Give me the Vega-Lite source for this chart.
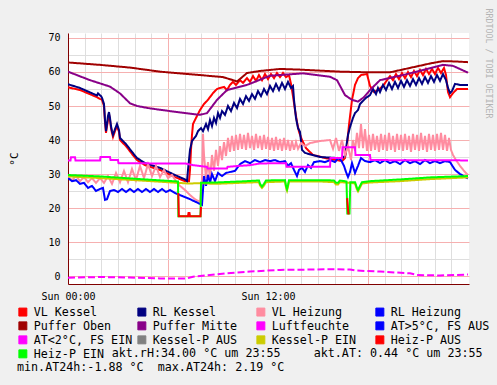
{
"$schema": "https://vega.github.io/schema/vega-lite/v6.json",
"width": 401, "height": 251,
"autosize": {"type": "none"},
"padding": {"left": 68, "top": 33, "right": 28, "bottom": 101},
"background": "#f0f0f0",
"title": {"text": "Temperaturverlauf Heizung am: 01.02.2015", "anchor": "start", "frame": "group", "dx": 20, "offset": 10, "font": "DejaVu Sans Mono", "fontSize": 13, "fontWeight": "normal", "color": "#000000"},
"config": {"view": {"fill": "#ffffff", "stroke": null}, "font": "DejaVu Sans Mono"},
"data": {"values": [
{"s":"VL Kessel","t":0,"v":55.5},{"s":"VL Kessel","t":0.72,"v":54.7},{"s":"VL Kessel","t":1.74,"v":52.6},{"s":"VL Kessel","t":1.92,"v":52.1},{"s":"VL Kessel","t":2.04,"v":51.8},{"s":"VL Kessel","t":2.16,"v":50.0},{"s":"VL Kessel","t":2.22,"v":45.3},{"s":"VL Kessel","t":2.28,"v":42.1},{"s":"VL Kessel","t":2.34,"v":44.1},{"s":"VL Kessel","t":2.4,"v":45.9},{"s":"VL Kessel","t":2.46,"v":47.6},{"s":"VL Kessel","t":2.52,"v":45.9},{"s":"VL Kessel","t":2.58,"v":43.5},{"s":"VL Kessel","t":2.64,"v":42.1},{"s":"VL Kessel","t":2.7,"v":40.9},{"s":"VL Kessel","t":2.82,"v":42.6},{"s":"VL Kessel","t":2.94,"v":44.1},{"s":"VL Kessel","t":3.06,"v":42.4},{"s":"VL Kessel","t":3.12,"v":40.0},{"s":"VL Kessel","t":3.48,"v":38.2},{"s":"VL Kessel","t":3.84,"v":35.9},{"s":"VL Kessel","t":4.14,"v":34.1},{"s":"VL Kessel","t":4.62,"v":32.6},{"s":"VL Kessel","t":5.52,"v":31.2},{"s":"VL Kessel","t":6.42,"v":29.1},{"s":"VL Kessel","t":7.02,"v":27.9},{"s":"VL Kessel","t":7.26,"v":27.9},{"s":"VL Kessel","t":7.32,"v":31.2},{"s":"VL Kessel","t":7.38,"v":37.1},{"s":"VL Kessel","t":7.44,"v":41.5},{"s":"VL Kessel","t":7.5,"v":44.7},{"s":"VL Kessel","t":7.68,"v":46.5},{"s":"VL Kessel","t":7.92,"v":48.8},{"s":"VL Kessel","t":8.16,"v":50.6},{"s":"VL Kessel","t":8.34,"v":51.5},{"s":"VL Kessel","t":8.52,"v":52.6},{"s":"VL Kessel","t":8.7,"v":53.8},{"s":"VL Kessel","t":8.94,"v":55.0},{"s":"VL Kessel","t":9.12,"v":55.3},{"s":"VL Kessel","t":9.36,"v":55.6},{"s":"VL Kessel","t":9.54,"v":54.7},{"s":"VL Kessel","t":9.72,"v":56.2},{"s":"VL Kessel","t":9.9,"v":57.1},{"s":"VL Kessel","t":10.08,"v":56.2},{"s":"VL Kessel","t":10.32,"v":57.6},{"s":"VL Kessel","t":10.5,"v":56.8},{"s":"VL Kessel","t":10.74,"v":58.2},{"s":"VL Kessel","t":10.92,"v":57.1},{"s":"VL Kessel","t":11.1,"v":58.8},{"s":"VL Kessel","t":11.28,"v":57.4},{"s":"VL Kessel","t":11.46,"v":59.1},{"s":"VL Kessel","t":11.64,"v":57.6},{"s":"VL Kessel","t":11.82,"v":59.4},{"s":"VL Kessel","t":12.0,"v":57.9},{"s":"VL Kessel","t":12.18,"v":59.4},{"s":"VL Kessel","t":12.36,"v":58.2},{"s":"VL Kessel","t":12.54,"v":59.7},{"s":"VL Kessel","t":12.72,"v":58.5},{"s":"VL Kessel","t":12.9,"v":59.7},{"s":"VL Kessel","t":13.08,"v":58.5},{"s":"VL Kessel","t":13.26,"v":59.1},{"s":"VL Kessel","t":13.38,"v":56.5},{"s":"VL Kessel","t":13.5,"v":52.9},{"s":"VL Kessel","t":13.62,"v":48.8},{"s":"VL Kessel","t":13.74,"v":45.3},{"s":"VL Kessel","t":13.86,"v":42.4},{"s":"VL Kessel","t":14.04,"v":40.0},{"s":"VL Kessel","t":14.28,"v":37.6},{"s":"VL Kessel","t":14.7,"v":35.6},{"s":"VL Kessel","t":15.42,"v":34.7},{"s":"VL Kessel","t":16.44,"v":33.8},{"s":"VL Kessel","t":16.62,"v":34.7},{"s":"VL Kessel","t":16.74,"v":38.5},{"s":"VL Kessel","t":16.86,"v":44.4},{"s":"VL Kessel","t":17.04,"v":51.8},{"s":"VL Kessel","t":17.22,"v":56.2},{"s":"VL Kessel","t":17.4,"v":58.2},{"s":"VL Kessel","t":17.58,"v":59.1},{"s":"VL Kessel","t":17.94,"v":59.4},{"s":"VL Kessel","t":18.12,"v":55.9},{"s":"VL Kessel","t":18.36,"v":54.1},{"s":"VL Kessel","t":18.6,"v":54.7},{"s":"VL Kessel","t":18.9,"v":55.9},{"s":"VL Kessel","t":19.14,"v":57.6},{"s":"VL Kessel","t":19.32,"v":58.8},{"s":"VL Kessel","t":19.5,"v":57.6},{"s":"VL Kessel","t":19.68,"v":59.4},{"s":"VL Kessel","t":19.86,"v":57.9},{"s":"VL Kessel","t":20.04,"v":59.7},{"s":"VL Kessel","t":20.22,"v":58.2},{"s":"VL Kessel","t":20.4,"v":60.0},{"s":"VL Kessel","t":20.58,"v":58.5},{"s":"VL Kessel","t":20.76,"v":60.3},{"s":"VL Kessel","t":20.94,"v":58.8},{"s":"VL Kessel","t":21.12,"v":60.6},{"s":"VL Kessel","t":21.3,"v":59.1},{"s":"VL Kessel","t":21.48,"v":60.9},{"s":"VL Kessel","t":21.66,"v":59.4},{"s":"VL Kessel","t":21.84,"v":60.9},{"s":"VL Kessel","t":22.02,"v":59.4},{"s":"VL Kessel","t":22.2,"v":61.2},{"s":"VL Kessel","t":22.38,"v":59.7},{"s":"VL Kessel","t":22.56,"v":61.2},{"s":"VL Kessel","t":22.68,"v":59.1},{"s":"VL Kessel","t":22.8,"v":54.1},{"s":"VL Kessel","t":22.92,"v":52.6},{"s":"VL Kessel","t":23.1,"v":53.8},{"s":"VL Kessel","t":23.34,"v":55.0},{"s":"VL Kessel","t":23.64,"v":55.0},{"s":"VL Kessel","t":24.0,"v":55.0},
{"s":"RL Kessel","t":0,"v":56.4},{"s":"RL Kessel","t":0.72,"v":55.3},{"s":"RL Kessel","t":1.74,"v":53.1},{"s":"RL Kessel","t":1.8,"v":53.7},{"s":"RL Kessel","t":1.98,"v":52.9},{"s":"RL Kessel","t":2.04,"v":52.4},{"s":"RL Kessel","t":2.16,"v":50.6},{"s":"RL Kessel","t":2.22,"v":45.9},{"s":"RL Kessel","t":2.28,"v":42.6},{"s":"RL Kessel","t":2.34,"v":44.7},{"s":"RL Kessel","t":2.4,"v":47.1},{"s":"RL Kessel","t":2.46,"v":48.2},{"s":"RL Kessel","t":2.52,"v":46.5},{"s":"RL Kessel","t":2.58,"v":44.1},{"s":"RL Kessel","t":2.64,"v":42.6},{"s":"RL Kessel","t":2.7,"v":41.5},{"s":"RL Kessel","t":2.82,"v":43.2},{"s":"RL Kessel","t":2.94,"v":44.7},{"s":"RL Kessel","t":3.06,"v":42.9},{"s":"RL Kessel","t":3.12,"v":40.6},{"s":"RL Kessel","t":3.48,"v":38.8},{"s":"RL Kessel","t":3.84,"v":36.5},{"s":"RL Kessel","t":4.14,"v":34.7},{"s":"RL Kessel","t":4.62,"v":33.2},{"s":"RL Kessel","t":5.52,"v":31.8},{"s":"RL Kessel","t":6.42,"v":29.7},{"s":"RL Kessel","t":7.02,"v":28.4},{"s":"RL Kessel","t":7.14,"v":27.9},{"s":"RL Kessel","t":7.2,"v":31.2},{"s":"RL Kessel","t":7.32,"v":37.1},{"s":"RL Kessel","t":7.44,"v":39.7},{"s":"RL Kessel","t":7.68,"v":41.2},{"s":"RL Kessel","t":7.8,"v":42.6},{"s":"RL Kessel","t":7.98,"v":43.5},{"s":"RL Kessel","t":8.1,"v":42.6},{"s":"RL Kessel","t":8.28,"v":44.7},{"s":"RL Kessel","t":8.4,"v":43.2},{"s":"RL Kessel","t":8.52,"v":45.9},{"s":"RL Kessel","t":8.64,"v":44.1},{"s":"RL Kessel","t":8.76,"v":46.5},{"s":"RL Kessel","t":8.88,"v":45.0},{"s":"RL Kessel","t":9.0,"v":47.9},{"s":"RL Kessel","t":9.12,"v":46.5},{"s":"RL Kessel","t":9.24,"v":48.5},{"s":"RL Kessel","t":9.42,"v":47.4},{"s":"RL Kessel","t":9.6,"v":50.0},{"s":"RL Kessel","t":9.78,"v":48.5},{"s":"RL Kessel","t":9.96,"v":50.9},{"s":"RL Kessel","t":10.14,"v":49.4},{"s":"RL Kessel","t":10.32,"v":52.1},{"s":"RL Kessel","t":10.5,"v":50.6},{"s":"RL Kessel","t":10.68,"v":52.9},{"s":"RL Kessel","t":10.86,"v":51.5},{"s":"RL Kessel","t":11.04,"v":53.5},{"s":"RL Kessel","t":11.22,"v":52.1},{"s":"RL Kessel","t":11.4,"v":54.4},{"s":"RL Kessel","t":11.58,"v":52.9},{"s":"RL Kessel","t":11.76,"v":55.0},{"s":"RL Kessel","t":11.94,"v":53.5},{"s":"RL Kessel","t":12.12,"v":55.9},{"s":"RL Kessel","t":12.3,"v":54.4},{"s":"RL Kessel","t":12.48,"v":56.5},{"s":"RL Kessel","t":12.66,"v":54.7},{"s":"RL Kessel","t":12.84,"v":56.8},{"s":"RL Kessel","t":13.02,"v":55.0},{"s":"RL Kessel","t":13.2,"v":57.1},{"s":"RL Kessel","t":13.38,"v":55.3},{"s":"RL Kessel","t":13.5,"v":55.9},{"s":"RL Kessel","t":13.56,"v":51.8},{"s":"RL Kessel","t":13.68,"v":46.5},{"s":"RL Kessel","t":13.8,"v":43.5},{"s":"RL Kessel","t":13.92,"v":42.4},{"s":"RL Kessel","t":14.04,"v":37.1},{"s":"RL Kessel","t":14.22,"v":36.2},{"s":"RL Kessel","t":15.12,"v":35.0},{"s":"RL Kessel","t":16.14,"v":34.7},{"s":"RL Kessel","t":16.44,"v":34.7},{"s":"RL Kessel","t":16.62,"v":35.3},{"s":"RL Kessel","t":16.8,"v":41.5},{"s":"RL Kessel","t":16.92,"v":43.8},{"s":"RL Kessel","t":17.1,"v":46.5},{"s":"RL Kessel","t":17.22,"v":47.9},{"s":"RL Kessel","t":17.4,"v":48.8},{"s":"RL Kessel","t":17.52,"v":50.6},{"s":"RL Kessel","t":17.7,"v":51.5},{"s":"RL Kessel","t":17.88,"v":52.4},{"s":"RL Kessel","t":18.12,"v":53.2},{"s":"RL Kessel","t":18.3,"v":55.0},{"s":"RL Kessel","t":18.48,"v":53.5},{"s":"RL Kessel","t":18.6,"v":55.3},{"s":"RL Kessel","t":18.72,"v":54.1},{"s":"RL Kessel","t":18.9,"v":56.2},{"s":"RL Kessel","t":19.08,"v":54.7},{"s":"RL Kessel","t":19.26,"v":56.8},{"s":"RL Kessel","t":19.44,"v":55.0},{"s":"RL Kessel","t":19.62,"v":57.1},{"s":"RL Kessel","t":19.8,"v":55.3},{"s":"RL Kessel","t":19.98,"v":57.4},{"s":"RL Kessel","t":20.16,"v":55.6},{"s":"RL Kessel","t":20.34,"v":57.6},{"s":"RL Kessel","t":20.52,"v":55.9},{"s":"RL Kessel","t":20.7,"v":57.9},{"s":"RL Kessel","t":20.88,"v":56.2},{"s":"RL Kessel","t":21.06,"v":58.2},{"s":"RL Kessel","t":21.24,"v":56.5},{"s":"RL Kessel","t":21.42,"v":58.5},{"s":"RL Kessel","t":21.6,"v":56.8},{"s":"RL Kessel","t":21.78,"v":58.8},{"s":"RL Kessel","t":21.96,"v":57.1},{"s":"RL Kessel","t":22.14,"v":59.1},{"s":"RL Kessel","t":22.32,"v":57.4},{"s":"RL Kessel","t":22.5,"v":59.4},{"s":"RL Kessel","t":22.68,"v":57.6},{"s":"RL Kessel","t":22.8,"v":55.3},{"s":"RL Kessel","t":22.92,"v":53.8},{"s":"RL Kessel","t":23.04,"v":54.4},{"s":"RL Kessel","t":23.22,"v":56.5},{"s":"RL Kessel","t":23.52,"v":56.2},{"s":"RL Kessel","t":24.0,"v":56.2},
{"s":"VL Heizung","t":0,"v":29.1},{"s":"VL Heizung","t":0.24,"v":28.2},{"s":"VL Heizung","t":0.48,"v":29.4},{"s":"VL Heizung","t":0.72,"v":27.9},{"s":"VL Heizung","t":0.96,"v":29.1},{"s":"VL Heizung","t":1.2,"v":27.6},{"s":"VL Heizung","t":1.44,"v":28.8},{"s":"VL Heizung","t":1.68,"v":27.4},{"s":"VL Heizung","t":1.92,"v":28.8},{"s":"VL Heizung","t":2.16,"v":27.4},{"s":"VL Heizung","t":2.4,"v":29.4},{"s":"VL Heizung","t":2.64,"v":27.1},{"s":"VL Heizung","t":2.88,"v":30.3},{"s":"VL Heizung","t":3.12,"v":27.6},{"s":"VL Heizung","t":3.36,"v":30.9},{"s":"VL Heizung","t":3.6,"v":27.6},{"s":"VL Heizung","t":3.84,"v":31.5},{"s":"VL Heizung","t":4.08,"v":28.2},{"s":"VL Heizung","t":4.32,"v":32.4},{"s":"VL Heizung","t":4.56,"v":28.8},{"s":"VL Heizung","t":4.8,"v":32.9},{"s":"VL Heizung","t":5.04,"v":29.4},{"s":"VL Heizung","t":5.28,"v":32.4},{"s":"VL Heizung","t":5.52,"v":29.1},{"s":"VL Heizung","t":5.76,"v":31.2},{"s":"VL Heizung","t":6.0,"v":28.8},{"s":"VL Heizung","t":6.24,"v":29.7},{"s":"VL Heizung","t":6.48,"v":27.9},{"s":"VL Heizung","t":6.72,"v":26.5},{"s":"VL Heizung","t":7.02,"v":25.3},{"s":"VL Heizung","t":7.32,"v":23.8},{"s":"VL Heizung","t":7.62,"v":22.6},{"s":"VL Heizung","t":7.92,"v":21.8},{"s":"VL Heizung","t":8.04,"v":28.2},{"s":"VL Heizung","t":8.1,"v":41.8},{"s":"VL Heizung","t":8.16,"v":35.6},{"s":"VL Heizung","t":8.28,"v":28.8},{"s":"VL Heizung","t":8.4,"v":33.5},{"s":"VL Heizung","t":8.52,"v":28.8},{"s":"VL Heizung","t":8.64,"v":35.6},{"s":"VL Heizung","t":8.76,"v":30.9},{"s":"VL Heizung","t":8.88,"v":37.1},{"s":"VL Heizung","t":9.0,"v":32.4},{"s":"VL Heizung","t":9.12,"v":38.2},{"s":"VL Heizung","t":9.24,"v":34.1},{"s":"VL Heizung","t":9.36,"v":39.4},{"s":"VL Heizung","t":9.48,"v":35.3},{"s":"VL Heizung","t":9.6,"v":40.6},{"s":"VL Heizung","t":9.72,"v":36.5},{"s":"VL Heizung","t":9.84,"v":41.2},{"s":"VL Heizung","t":9.96,"v":36.8},{"s":"VL Heizung","t":10.08,"v":41.5},{"s":"VL Heizung","t":10.2,"v":37.1},{"s":"VL Heizung","t":10.32,"v":41.8},{"s":"VL Heizung","t":10.44,"v":37.4},{"s":"VL Heizung","t":10.56,"v":41.5},{"s":"VL Heizung","t":10.68,"v":37.1},{"s":"VL Heizung","t":10.8,"v":42.1},{"s":"VL Heizung","t":10.92,"v":37.6},{"s":"VL Heizung","t":11.04,"v":41.2},{"s":"VL Heizung","t":11.16,"v":37.1},{"s":"VL Heizung","t":11.28,"v":41.8},{"s":"VL Heizung","t":11.4,"v":37.6},{"s":"VL Heizung","t":11.52,"v":41.2},{"s":"VL Heizung","t":11.64,"v":37.1},{"s":"VL Heizung","t":11.76,"v":41.5},{"s":"VL Heizung","t":11.88,"v":37.4},{"s":"VL Heizung","t":12.0,"v":40.9},{"s":"VL Heizung","t":12.12,"v":37.1},{"s":"VL Heizung","t":12.24,"v":40.6},{"s":"VL Heizung","t":12.36,"v":36.8},{"s":"VL Heizung","t":12.48,"v":40.9},{"s":"VL Heizung","t":12.6,"v":37.1},{"s":"VL Heizung","t":12.72,"v":40.3},{"s":"VL Heizung","t":12.84,"v":36.8},{"s":"VL Heizung","t":12.96,"v":40.6},{"s":"VL Heizung","t":13.08,"v":37.1},{"s":"VL Heizung","t":13.2,"v":40.0},{"s":"VL Heizung","t":13.32,"v":36.8},{"s":"VL Heizung","t":13.44,"v":39.7},{"s":"VL Heizung","t":13.56,"v":37.1},{"s":"VL Heizung","t":13.68,"v":39.4},{"s":"VL Heizung","t":13.8,"v":37.4},{"s":"VL Heizung","t":13.98,"v":39.1},{"s":"VL Heizung","t":14.22,"v":38.2},{"s":"VL Heizung","t":14.52,"v":39.1},{"s":"VL Heizung","t":15.12,"v":39.7},{"s":"VL Heizung","t":15.72,"v":40.0},{"s":"VL Heizung","t":15.9,"v":37.4},{"s":"VL Heizung","t":16.08,"v":40.6},{"s":"VL Heizung","t":16.26,"v":36.8},{"s":"VL Heizung","t":16.44,"v":40.0},{"s":"VL Heizung","t":16.62,"v":35.6},{"s":"VL Heizung","t":16.8,"v":38.2},{"s":"VL Heizung","t":16.98,"v":34.1},{"s":"VL Heizung","t":17.1,"v":40.0},{"s":"VL Heizung","t":17.22,"v":36.8},{"s":"VL Heizung","t":17.34,"v":42.1},{"s":"VL Heizung","t":17.46,"v":37.6},{"s":"VL Heizung","t":17.58,"v":44.7},{"s":"VL Heizung","t":17.7,"v":37.6},{"s":"VL Heizung","t":17.82,"v":43.2},{"s":"VL Heizung","t":17.94,"v":36.8},{"s":"VL Heizung","t":18.06,"v":41.5},{"s":"VL Heizung","t":18.18,"v":36.8},{"s":"VL Heizung","t":18.3,"v":41.8},{"s":"VL Heizung","t":18.42,"v":37.1},{"s":"VL Heizung","t":18.54,"v":41.2},{"s":"VL Heizung","t":18.66,"v":36.5},{"s":"VL Heizung","t":18.78,"v":41.8},{"s":"VL Heizung","t":18.9,"v":37.1},{"s":"VL Heizung","t":19.02,"v":41.5},{"s":"VL Heizung","t":19.14,"v":36.8},{"s":"VL Heizung","t":19.26,"v":42.1},{"s":"VL Heizung","t":19.38,"v":37.1},{"s":"VL Heizung","t":19.5,"v":41.2},{"s":"VL Heizung","t":19.62,"v":36.5},{"s":"VL Heizung","t":19.74,"v":41.8},{"s":"VL Heizung","t":19.86,"v":37.1},{"s":"VL Heizung","t":19.98,"v":41.5},{"s":"VL Heizung","t":20.1,"v":36.8},{"s":"VL Heizung","t":20.22,"v":41.8},{"s":"VL Heizung","t":20.34,"v":37.1},{"s":"VL Heizung","t":20.46,"v":41.2},{"s":"VL Heizung","t":20.58,"v":36.5},{"s":"VL Heizung","t":20.7,"v":41.8},{"s":"VL Heizung","t":20.82,"v":37.1},{"s":"VL Heizung","t":20.94,"v":41.5},{"s":"VL Heizung","t":21.06,"v":36.8},{"s":"VL Heizung","t":21.18,"v":42.1},{"s":"VL Heizung","t":21.3,"v":37.1},{"s":"VL Heizung","t":21.42,"v":41.2},{"s":"VL Heizung","t":21.54,"v":36.5},{"s":"VL Heizung","t":21.66,"v":41.8},{"s":"VL Heizung","t":21.78,"v":37.1},{"s":"VL Heizung","t":21.9,"v":41.5},{"s":"VL Heizung","t":22.02,"v":36.8},{"s":"VL Heizung","t":22.14,"v":41.8},{"s":"VL Heizung","t":22.26,"v":37.1},{"s":"VL Heizung","t":22.38,"v":42.1},{"s":"VL Heizung","t":22.5,"v":37.1},{"s":"VL Heizung","t":22.62,"v":41.5},{"s":"VL Heizung","t":22.74,"v":36.8},{"s":"VL Heizung","t":22.86,"v":40.6},{"s":"VL Heizung","t":22.98,"v":37.1},{"s":"VL Heizung","t":23.1,"v":35.6},{"s":"VL Heizung","t":23.28,"v":34.1},{"s":"VL Heizung","t":23.52,"v":32.4},{"s":"VL Heizung","t":23.76,"v":30.9},{"s":"VL Heizung","t":24.0,"v":29.7},
{"s":"RL Heizung","t":0,"v":28.8},{"s":"RL Heizung","t":0.24,"v":27.9},{"s":"RL Heizung","t":0.48,"v":28.2},{"s":"RL Heizung","t":0.72,"v":27.1},{"s":"RL Heizung","t":0.96,"v":27.4},{"s":"RL Heizung","t":1.2,"v":25.9},{"s":"RL Heizung","t":1.44,"v":26.5},{"s":"RL Heizung","t":1.68,"v":25.0},{"s":"RL Heizung","t":1.92,"v":25.6},{"s":"RL Heizung","t":2.1,"v":25.9},{"s":"RL Heizung","t":2.22,"v":22.4},{"s":"RL Heizung","t":2.34,"v":22.6},{"s":"RL Heizung","t":2.52,"v":25.0},{"s":"RL Heizung","t":2.76,"v":25.3},{"s":"RL Heizung","t":3.0,"v":24.7},{"s":"RL Heizung","t":3.24,"v":25.6},{"s":"RL Heizung","t":3.48,"v":24.7},{"s":"RL Heizung","t":3.72,"v":25.6},{"s":"RL Heizung","t":3.96,"v":24.7},{"s":"RL Heizung","t":4.2,"v":25.6},{"s":"RL Heizung","t":4.44,"v":24.7},{"s":"RL Heizung","t":4.68,"v":25.6},{"s":"RL Heizung","t":4.92,"v":24.7},{"s":"RL Heizung","t":5.16,"v":25.6},{"s":"RL Heizung","t":5.4,"v":24.7},{"s":"RL Heizung","t":5.64,"v":25.6},{"s":"RL Heizung","t":5.88,"v":24.7},{"s":"RL Heizung","t":6.12,"v":25.3},{"s":"RL Heizung","t":6.42,"v":24.4},{"s":"RL Heizung","t":6.72,"v":23.8},{"s":"RL Heizung","t":7.32,"v":22.6},{"s":"RL Heizung","t":7.92,"v":21.2},{"s":"RL Heizung","t":8.04,"v":20.9},{"s":"RL Heizung","t":8.1,"v":25.3},{"s":"RL Heizung","t":8.16,"v":29.4},{"s":"RL Heizung","t":8.28,"v":26.5},{"s":"RL Heizung","t":8.4,"v":29.7},{"s":"RL Heizung","t":8.52,"v":27.4},{"s":"RL Heizung","t":8.64,"v":30.0},{"s":"RL Heizung","t":8.82,"v":27.9},{"s":"RL Heizung","t":9.0,"v":30.3},{"s":"RL Heizung","t":9.24,"v":29.4},{"s":"RL Heizung","t":9.48,"v":30.3},{"s":"RL Heizung","t":9.72,"v":30.6},{"s":"RL Heizung","t":10.02,"v":30.9},{"s":"RL Heizung","t":10.32,"v":32.9},{"s":"RL Heizung","t":10.62,"v":33.8},{"s":"RL Heizung","t":10.92,"v":33.2},{"s":"RL Heizung","t":11.22,"v":34.1},{"s":"RL Heizung","t":11.52,"v":33.5},{"s":"RL Heizung","t":11.82,"v":34.1},{"s":"RL Heizung","t":12.12,"v":33.8},{"s":"RL Heizung","t":12.42,"v":34.1},{"s":"RL Heizung","t":12.72,"v":33.5},{"s":"RL Heizung","t":13.02,"v":33.8},{"s":"RL Heizung","t":13.2,"v":32.4},{"s":"RL Heizung","t":13.38,"v":33.2},{"s":"RL Heizung","t":13.56,"v":31.2},{"s":"RL Heizung","t":13.74,"v":29.4},{"s":"RL Heizung","t":13.86,"v":31.2},{"s":"RL Heizung","t":14.04,"v":31.8},{"s":"RL Heizung","t":14.22,"v":30.6},{"s":"RL Heizung","t":14.4,"v":32.6},{"s":"RL Heizung","t":14.58,"v":31.8},{"s":"RL Heizung","t":14.76,"v":33.5},{"s":"RL Heizung","t":15.12,"v":33.8},{"s":"RL Heizung","t":15.42,"v":33.5},{"s":"RL Heizung","t":15.72,"v":34.1},{"s":"RL Heizung","t":16.02,"v":33.5},{"s":"RL Heizung","t":16.2,"v":34.7},{"s":"RL Heizung","t":16.38,"v":34.1},{"s":"RL Heizung","t":16.56,"v":32.4},{"s":"RL Heizung","t":16.68,"v":30.6},{"s":"RL Heizung","t":16.8,"v":29.1},{"s":"RL Heizung","t":16.92,"v":30.6},{"s":"RL Heizung","t":17.04,"v":33.2},{"s":"RL Heizung","t":17.22,"v":30.3},{"s":"RL Heizung","t":17.4,"v":32.4},{"s":"RL Heizung","t":17.58,"v":34.7},{"s":"RL Heizung","t":17.82,"v":33.8},{"s":"RL Heizung","t":18.12,"v":33.5},{"s":"RL Heizung","t":18.42,"v":34.1},{"s":"RL Heizung","t":18.72,"v":33.2},{"s":"RL Heizung","t":19.02,"v":34.1},{"s":"RL Heizung","t":19.32,"v":33.2},{"s":"RL Heizung","t":19.62,"v":33.8},{"s":"RL Heizung","t":19.92,"v":32.9},{"s":"RL Heizung","t":20.22,"v":34.1},{"s":"RL Heizung","t":20.52,"v":33.2},{"s":"RL Heizung","t":20.82,"v":33.8},{"s":"RL Heizung","t":21.12,"v":32.9},{"s":"RL Heizung","t":21.42,"v":34.1},{"s":"RL Heizung","t":21.72,"v":33.2},{"s":"RL Heizung","t":22.02,"v":33.8},{"s":"RL Heizung","t":22.32,"v":33.2},{"s":"RL Heizung","t":22.62,"v":33.8},{"s":"RL Heizung","t":22.92,"v":33.5},{"s":"RL Heizung","t":23.22,"v":31.2},{"s":"RL Heizung","t":23.52,"v":30.0},{"s":"RL Heizung","t":23.82,"v":29.1},{"s":"RL Heizung","t":24.0,"v":28.7},
{"s":"Puffer Oben","t":0,"v":62.8},{"s":"Puffer Oben","t":1.92,"v":62.1},{"s":"Puffer Oben","t":3.72,"v":61.3},{"s":"Puffer Oben","t":5.52,"v":60.1},{"s":"Puffer Oben","t":7.92,"v":59.1},{"s":"Puffer Oben","t":9.3,"v":58.5},{"s":"Puffer Oben","t":9.9,"v":57.6},{"s":"Puffer Oben","t":10.14,"v":57.2},{"s":"Puffer Oben","t":10.38,"v":58.2},{"s":"Puffer Oben","t":10.74,"v":59.7},{"s":"Puffer Oben","t":11.52,"v":60.3},{"s":"Puffer Oben","t":12.72,"v":60.9},{"s":"Puffer Oben","t":13.92,"v":60.7},{"s":"Puffer Oben","t":16.32,"v":60.1},{"s":"Puffer Oben","t":18.12,"v":59.9},{"s":"Puffer Oben","t":19.32,"v":59.9},{"s":"Puffer Oben","t":20.52,"v":61.2},{"s":"Puffer Oben","t":21.72,"v":62.5},{"s":"Puffer Oben","t":22.5,"v":63.2},{"s":"Puffer Oben","t":23.22,"v":63.1},{"s":"Puffer Oben","t":24.0,"v":62.9},
{"s":"Puffer Mitte","t":0,"v":60.1},{"s":"Puffer Mitte","t":1.32,"v":57.6},{"s":"Puffer Mitte","t":2.52,"v":55.7},{"s":"Puffer Mitte","t":3.12,"v":53.7},{"s":"Puffer Mitte","t":3.72,"v":50.8},{"s":"Puffer Mitte","t":4.14,"v":50.0},{"s":"Puffer Mitte","t":4.92,"v":49.3},{"s":"Puffer Mitte","t":6.72,"v":48.1},{"s":"Puffer Mitte","t":7.92,"v":47.4},{"s":"Puffer Mitte","t":8.34,"v":47.9},{"s":"Puffer Mitte","t":8.94,"v":51.8},{"s":"Puffer Mitte","t":9.54,"v":54.7},{"s":"Puffer Mitte","t":10.74,"v":56.2},{"s":"Puffer Mitte","t":12.12,"v":58.9},{"s":"Puffer Mitte","t":14.1,"v":59.6},{"s":"Puffer Mitte","t":15.72,"v":58.6},{"s":"Puffer Mitte","t":16.14,"v":57.6},{"s":"Puffer Mitte","t":16.62,"v":53.2},{"s":"Puffer Mitte","t":17.04,"v":51.8},{"s":"Puffer Mitte","t":17.4,"v":51.3},{"s":"Puffer Mitte","t":17.76,"v":52.6},{"s":"Puffer Mitte","t":18.12,"v":54.7},{"s":"Puffer Mitte","t":18.72,"v":57.6},{"s":"Puffer Mitte","t":20.1,"v":59.1},{"s":"Puffer Mitte","t":22.5,"v":62.1},{"s":"Puffer Mitte","t":23.1,"v":61.8},{"s":"Puffer Mitte","t":24.0,"v":59.8},
{"s":"Luftfeuchte","t":0,"v":34.0},{"s":"Luftfeuchte","t":0.15,"v":34.0},{"s":"Luftfeuchte","t":0.18,"v":34.9},{"s":"Luftfeuchte","t":0.42,"v":34.9},{"s":"Luftfeuchte","t":0.45,"v":34.0},{"s":"Luftfeuchte","t":1.92,"v":34.0},{"s":"Luftfeuchte","t":1.95,"v":35.0},{"s":"Luftfeuchte","t":2.52,"v":35.0},{"s":"Luftfeuchte","t":2.55,"v":34.1},{"s":"Luftfeuchte","t":3.0,"v":34.1},{"s":"Luftfeuchte","t":3.03,"v":33.2},{"s":"Luftfeuchte","t":5.52,"v":33.1},{"s":"Luftfeuchte","t":7.02,"v":33.1},{"s":"Luftfeuchte","t":7.5,"v":32.6},{"s":"Luftfeuchte","t":8.34,"v":32.1},{"s":"Luftfeuchte","t":8.37,"v":31.6},{"s":"Luftfeuchte","t":9.54,"v":31.6},{"s":"Luftfeuchte","t":9.57,"v":32.1},{"s":"Luftfeuchte","t":10.32,"v":32.4},{"s":"Luftfeuchte","t":10.92,"v":32.6},{"s":"Luftfeuchte","t":11.52,"v":33.1},{"s":"Luftfeuchte","t":13.08,"v":33.2},{"s":"Luftfeuchte","t":13.11,"v":32.1},{"s":"Luftfeuchte","t":15.72,"v":32.1},{"s":"Luftfeuchte","t":15.75,"v":34.7},{"s":"Luftfeuchte","t":16.44,"v":34.7},{"s":"Luftfeuchte","t":16.47,"v":37.9},{"s":"Luftfeuchte","t":17.22,"v":37.9},{"s":"Luftfeuchte","t":17.25,"v":35.6},{"s":"Luftfeuchte","t":18.12,"v":35.6},{"s":"Luftfeuchte","t":18.15,"v":34.1},{"s":"Luftfeuchte","t":24.0,"v":34.0},
{"s":"AT<2°C, FS EIN","t":0,"v":-0.5},{"s":"AT<2°C, FS EIN","t":1.92,"v":-0.3},{"s":"AT<2°C, FS EIN","t":3.72,"v":-0.45},{"s":"AT<2°C, FS EIN","t":5.52,"v":-0.7},{"s":"AT<2°C, FS EIN","t":7.14,"v":-0.7},{"s":"AT<2°C, FS EIN","t":7.5,"v":-0.2},{"s":"AT<2°C, FS EIN","t":8.52,"v":0.3},{"s":"AT<2°C, FS EIN","t":9.54,"v":0.8},{"s":"AT<2°C, FS EIN","t":10.92,"v":1.3},{"s":"AT<2°C, FS EIN","t":12.72,"v":1.8},{"s":"AT<2°C, FS EIN","t":13.92,"v":1.85},{"s":"AT<2°C, FS EIN","t":15.72,"v":2.0},{"s":"AT<2°C, FS EIN","t":16.92,"v":1.9},{"s":"AT<2°C, FS EIN","t":17.34,"v":1.6},{"s":"AT<2°C, FS EIN","t":18.72,"v":1.3},{"s":"AT<2°C, FS EIN","t":20.52,"v":0.8},{"s":"AT<2°C, FS EIN","t":20.94,"v":0.3},{"s":"AT<2°C, FS EIN","t":22.32,"v":0.15},{"s":"AT<2°C, FS EIN","t":24.0,"v":0.44},
{"s":"Kessel-P EIN","t":0,"v":29.3},{"s":"Kessel-P EIN","t":1.92,"v":28.8},{"s":"Kessel-P EIN","t":4.32,"v":28.1},{"s":"Kessel-P EIN","t":6.6,"v":27.4},{"s":"Kessel-P EIN","t":7.2,"v":27.2},{"s":"Kessel-P EIN","t":7.92,"v":27.3},{"s":"Kessel-P EIN","t":8.82,"v":27.1},{"s":"Kessel-P EIN","t":10.32,"v":27.4},{"s":"Kessel-P EIN","t":11.46,"v":27.6},{"s":"Kessel-P EIN","t":11.52,"v":26.6},{"s":"Kessel-P EIN","t":11.64,"v":25.9},{"s":"Kessel-P EIN","t":11.76,"v":26.6},{"s":"Kessel-P EIN","t":11.88,"v":27.6},{"s":"Kessel-P EIN","t":13.02,"v":27.8},{"s":"Kessel-P EIN","t":13.08,"v":26.0},{"s":"Kessel-P EIN","t":13.14,"v":25.1},{"s":"Kessel-P EIN","t":13.2,"v":26.3},{"s":"Kessel-P EIN","t":13.26,"v":27.8},{"s":"Kessel-P EIN","t":15.12,"v":27.8},{"s":"Kessel-P EIN","t":15.96,"v":27.6},{"s":"Kessel-P EIN","t":16.08,"v":26.9},{"s":"Kessel-P EIN","t":16.2,"v":26.9},{"s":"Kessel-P EIN","t":16.32,"v":27.6},{"s":"Kessel-P EIN","t":16.92,"v":27.4},{"s":"Kessel-P EIN","t":17.22,"v":27.2},{"s":"Kessel-P EIN","t":17.34,"v":25.4},{"s":"Kessel-P EIN","t":17.4,"v":24.9},{"s":"Kessel-P EIN","t":17.52,"v":26.0},{"s":"Kessel-P EIN","t":17.64,"v":27.2},{"s":"Kessel-P EIN","t":18.12,"v":27.5},{"s":"Kessel-P EIN","t":19.92,"v":27.9},{"s":"Kessel-P EIN","t":21.72,"v":28.5},{"s":"Kessel-P EIN","t":24.0,"v":29.0},
{"s":"Heiz-P EIN","t":0,"v":29.7},{"s":"Heiz-P EIN","t":1.92,"v":29.3},{"s":"Heiz-P EIN","t":4.32,"v":28.5},{"s":"Heiz-P EIN","t":6.6,"v":27.8},{"s":"Heiz-P EIN","t":6.62,"v":17.6},{"s":"Heiz-P EIN","t":7.95,"v":17.6},{"s":"Heiz-P EIN","t":7.98,"v":27.4},{"s":"Heiz-P EIN","t":8.82,"v":27.5},{"s":"Heiz-P EIN","t":10.32,"v":27.8},{"s":"Heiz-P EIN","t":11.46,"v":28.1},{"s":"Heiz-P EIN","t":11.52,"v":27.1},{"s":"Heiz-P EIN","t":11.64,"v":26.3},{"s":"Heiz-P EIN","t":11.76,"v":27.1},{"s":"Heiz-P EIN","t":11.88,"v":28.1},{"s":"Heiz-P EIN","t":13.02,"v":28.2},{"s":"Heiz-P EIN","t":13.08,"v":26.5},{"s":"Heiz-P EIN","t":13.14,"v":25.6},{"s":"Heiz-P EIN","t":13.2,"v":26.8},{"s":"Heiz-P EIN","t":13.26,"v":28.2},{"s":"Heiz-P EIN","t":15.12,"v":28.2},{"s":"Heiz-P EIN","t":15.96,"v":28.1},{"s":"Heiz-P EIN","t":16.08,"v":27.4},{"s":"Heiz-P EIN","t":16.2,"v":27.4},{"s":"Heiz-P EIN","t":16.32,"v":28.1},{"s":"Heiz-P EIN","t":16.71,"v":27.8},{"s":"Heiz-P EIN","t":16.76,"v":18.4},{"s":"Heiz-P EIN","t":16.89,"v":18.4},{"s":"Heiz-P EIN","t":16.94,"v":27.6},{"s":"Heiz-P EIN","t":17.22,"v":27.6},{"s":"Heiz-P EIN","t":17.34,"v":25.9},{"s":"Heiz-P EIN","t":17.4,"v":25.3},{"s":"Heiz-P EIN","t":17.52,"v":26.5},{"s":"Heiz-P EIN","t":17.64,"v":27.6},{"s":"Heiz-P EIN","t":18.12,"v":27.9},{"s":"Heiz-P EIN","t":19.92,"v":28.4},{"s":"Heiz-P EIN","t":21.72,"v":29.0},{"s":"Heiz-P EIN","t":24.0,"v":29.4},
{"s":"Heiz-P AUS","t":6.62,"v":24.4},{"s":"Heiz-P AUS","t":6.65,"v":17.6},{"s":"Heiz-P AUS","t":7.2,"v":17.6},{"s":"Heiz-P AUS","t":7.23,"v":18.5},{"s":"Heiz-P AUS","t":7.29,"v":18.5},{"s":"Heiz-P AUS","t":7.32,"v":17.6},{"s":"Heiz-P AUS","t":7.95,"v":17.6},{"s":"Heiz-P AUS","t":7.98,"v":20.3},
{"s":"Heiz-P AUS","t":16.75,"v":22.9,"g":2},{"s":"Heiz-P AUS","t":16.82,"v":18.4,"g":2},{"s":"Heiz-P AUS","t":16.89,"v":18.4,"g":2}
]},
"layer": [
{
"mark": {"type": "line", "strokeWidth": 2, "clip": true},
"encoding": {
"x": {"field": "t", "type": "quantitative", "scale": {"domain": [0, 24.06], "nice": false, "zero": false},
 "axis": {"values": [0,1,2,3,4,5,6,7,8,9,10,11,12,13,14,15,16,17,18,19,20,21,22,23], "title": null, "grid": true,
 "gridColor": {"condition": {"test": "datum.value % 6 === 0", "value": "#f6b0b0"}, "value": "#dedede"},
 "ticks": false, "domainColor": "#800000", "labelExpr": "datum.value === 0 ? 'Sun 00:00' : datum.value === 12 ? 'Sun 12:00' : ''",
 "labelFont": "DejaVu Sans Mono", "labelFontSize": 10, "labelColor": "#000000", "labelPadding": 7, "labelOverlap": false, "labelFlush": false}},
"y": {"field": "v", "type": "quantitative", "scale": {"domain": [-2.35, 71.47], "nice": false, "zero": false},
 "axis": {"values": [0,5,10,15,20,25,30,35,40,45,50,55,60,65,70], "title": "°C", "grid": true,
 "gridColor": {"condition": {"test": "datum.value % 10 === 0", "value": "#f6b0b0"}, "value": "#dedede"},
 "ticks": false, "domainColor": "#800000", "labelExpr": "datum.value % 10 === 0 ? datum.label : ''",
 "labelFont": "DejaVu Sans Mono", "labelFontSize": 10, "labelColor": "#000000", "labelPadding": 8, "labelOverlap": false, "labelFlush": false,
 "titleFont": "DejaVu Sans Mono", "titleFontSize": 11, "titleFontWeight": "normal", "titleColor": "#000000", "titlePadding": 28}},
"color": {"field": "s", "type": "nominal",
 "scale": {"domain": ["VL Kessel","RL Kessel","VL Heizung","RL Heizung","Puffer Oben","Puffer Mitte","Luftfeuchte","AT>5°C, FS AUS","AT<2°C, FS EIN","Kessel-P AUS","Kessel-P EIN","Heiz-P AUS","Heiz-P EIN"],
  "range": ["#ff0000","#000080","#ff8ca0","#0000ff","#a00000","#880088","#ff00ff","#0000ff","#ff00ff","#808080","#cccc00","#ff0000","#00ff00"]},
 "legend": {"orient": "none", "legendX": -51, "legendY": 273, "direction": "horizontal", "columns": 4, "gridAlign": "all",
  "columnPadding": 2, "rowPadding": 0, "padding": 0,
  "symbolType": "square", "symbolSize": 64, "symbolStrokeWidth": 1, "symbolStrokeColor": "#333333", "symbolOpacity": 1,
  "labelFont": "DejaVu Sans Mono", "labelFontSize": 11.7, "labelColor": "#000000", "labelOffset": 5, "labelLimit": 1000,
  "title": "min.AT24h:-1.88 °C\u00a0\u00a0max.AT24h: 2.19 °C", "titleOrient": "bottom", "titleAnchor": "start",
  "titleFont": "DejaVu Sans Mono", "titleFontSize": 11.7, "titleFontWeight": "normal", "titleColor": "#000000", "titlePadding": 1, "titleLimit": 1000,
  "encode": {"symbols": {"update": {"fill": {"scale": "color", "field": "value"}, "stroke": {"value": "#333333"}, "strokeWidth": {"value": 1}, "strokeDash": {"value": [1, 0]}, "opacity": {"value": 1}}}}}},
"detail": {"field": "g"},
"strokeDash": {"condition": {"test": "datum.s === 'AT<2°C, FS EIN'", "value": [7, 3]}, "value": [1, 0]}
}
},
{
"data": {"values": []},
"mark": {"type": "point", "opacity": 0},
"encoding": {
"y": {"field": "v", "type": "quantitative",
 "axis": {"orient": "right", "title": "RRDTOOL / TOBI OETIKER", "labels": false, "ticks": false, "domain": false, "grid": false,
 "titleAngle": 90, "titleX": 18.5, "titleY": -25, "titleAlign": "left", "titleBaseline": "middle",
 "titleFont": "DejaVu Sans Mono", "titleFontSize": 8.3, "titleFontWeight": "normal", "titleColor": "#b4b4b4"}},
"shape": {"field": "stat", "type": "nominal",
 "scale": {"domain": ["akt.rH:34.00 °C um 23:55", "akt.AT: 0.44 °C um 23:55"], "range": ["square", "square"]},
 "legend": {"orient": "none", "legendX": 27, "legendY": 314, "direction": "horizontal", "columns": 2, "gridAlign": "all",
  "columnPadding": 16, "rowPadding": 0, "padding": 0, "title": null,
  "symbolSize": 64, "symbolStrokeWidth": 0, "symbolOpacity": 0,
  "labelFont": "DejaVu Sans Mono", "labelFontSize": 11.7, "labelColor": "#000000", "labelOffset": 5, "labelLimit": 1000,
  "encode": {"symbols": {"update": {"opacity": {"value": 0}}}}}}
}
}
],
"resolve": {"axis": {"y": "independent"}}
}
